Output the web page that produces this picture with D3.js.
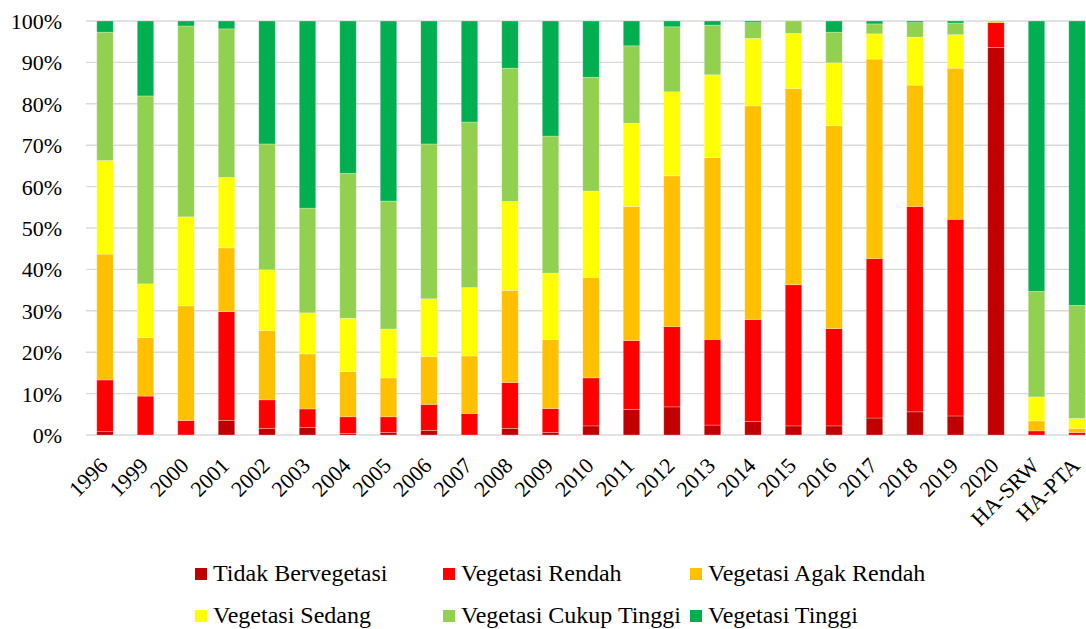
<!DOCTYPE html>
<html>
<head>
<meta charset="utf-8">
<script src="https://cdn.jsdelivr.net/npm/d3@7"></script>
<style>
  body { margin: 0; background: #fff; }
</style>
</head>
<body>
<script>
// kategori (tahun + hutan acuan)
var categories = ["1996","1999","2000","2001","2002","2003","2004","2005","2006","2007","2008","2009",
  "2010","2011","2012","2013","2014","2015","2016","2017","2018","2019","2020","HA-SRW","HA-PTA"];

// persentase tiap kelas (%)
var tidakBervegetasi = [0.8,0,0,3.5,1.6,1.8,0.4,0.6,1.1,0,1.6,0.6,2.2,6.2,6.8,2.4,3.3,2.2,2.2,4.1,5.6,4.6,93.6,0,0];
var vegRendah        = [12.5,9.4,3.5,26.3,6.9,4.5,4.0,3.8,6.3,5.2,11.1,5.8,11.6,16.6,19.4,20.7,24.6,34.1,23.5,38.5,49.6,47.5,6.0,1.0,0.6];
var vegAgakRendah    = [30.4,14.1,27.7,15.4,16.7,13.3,10.9,9.4,11.5,13.9,22.2,16.7,24.3,32.4,36.4,43.9,51.6,47.4,49.0,48.2,29.3,36.5,0.4,2.4,1.0];
var vegSedang        = [22.6,13.0,21.5,17.0,14.7,9.9,12.9,11.8,14.0,16.5,21.5,16.0,20.8,20.1,20.3,20.0,16.3,13.3,15.2,6.1,11.6,8.1,0,5.8,2.4];
var vegCukupTinggi   = [31.0,45.4,46.1,35.9,30.4,25.3,35.0,30.9,37.4,40.0,32.2,33.1,27.5,18.7,15.7,12.0,3.8,3.0,7.4,2.4,3.5,2.8,0,25.5,27.3];
var vegTinggi        = [2.7,18.1,1.2,1.9,29.7,45.2,36.8,43.5,29.7,24.4,11.4,27.8,13.6,6.0,1.4,1.0,0.4,0,2.7,0.7,0.4,0.5,0,65.3,68.7];

var seriesNames = ["Tidak Bervegetasi","Vegetasi Rendah","Vegetasi Agak Rendah","Vegetasi Sedang","Vegetasi Cukup Tinggi","Vegetasi Tinggi"];
var seriesValues = [tidakBervegetasi, vegRendah, vegAgakRendah, vegSedang, vegCukupTinggi, vegTinggi];
var seriesColors = ["#C00000","#FF0000","#FFC000","#FFFF00","#92D050","#00B050"];
var yTicks = [0,10,20,30,40,50,60,70,80,90,100];

var W = 1086, H = 629;
var serif = "'Liberation Serif', 'Times New Roman', 'DejaVu Serif', serif";

var svg = d3.select("body").append("svg")
    .attr("width", W)
    .attr("height", H)
    .attr("font-family", serif);

//skala
var x = d3.scaleBand().domain(categories).range([84.75, 1097.25]).paddingInner(0.593).paddingOuter(0.2965);
var y = d3.scaleLinear().domain([0,100]).range([435, 21]);

//gridlines
svg.append("g").selectAll("line").data(yTicks).enter().append("line")
    .attr("x1", 86).attr("x2", W)
    .attr("y1", function(d){ return y(d); })
    .attr("y2", function(d){ return y(d); })
    .attr("stroke", "#d9d9d9")
    .attr("stroke-width", 1.4);

//label sumbu y
svg.append("g").selectAll("text").data(yTicks).enter().append("text")
    .attr("x", 62)
    .attr("y", function(d){ return y(d); })
    .attr("dy", "0.36em")
    .attr("text-anchor", "end")
    .style("font-family", serif)
    .style("font-size", "22px")
    .text(function(d){ return d + "%"; });

//data bertumpuk
var rows = categories.map(function(c, i){
    var r = {cat: c};
    seriesNames.forEach(function(s, j){ r[s] = seriesValues[j][i]; });
    return r;
});
var stacked = d3.stack().keys(seriesNames)(rows);

svg.append("g").selectAll("g").data(stacked).enter().append("g")
    .attr("fill", function(d, i){ return seriesColors[i]; })
    .selectAll("rect").data(function(d){ return d; }).enter().append("rect")
    .attr("x", function(d){ return x(d.data.cat); })
    .attr("width", x.bandwidth())
    .attr("y", function(d){ return y(d[1]); })
    .attr("height", function(d){ return Math.max(0, y(d[0]) - y(d[1])); })
    .attr("stroke", "#ffffff")
    .attr("stroke-opacity", 0.35)
    .attr("stroke-width", 0.75);

//label sumbu x (miring)
svg.append("g").selectAll("text").data(categories).enter().append("text")
    .attr("transform", function(d){
        return "translate(" + (x(d) + x.bandwidth()/2 + 4) + ",467) rotate(-45)";
    })
    .attr("text-anchor", "end")
    .style("font-family", serif)
    .style("font-size", "22px")
    .text(function(d){ return d; });

//legenda
var legendX = [195, 443, 690];
var legendY = [568, 610];
var legend = svg.append("g").selectAll("g").data(seriesNames).enter().append("g")
    .attr("transform", function(d, i){
        return "translate(" + legendX[i % 3] + "," + legendY[Math.floor(i / 3)] + ")";
    });
legend.append("rect")
    .attr("width", 12).attr("height", 12)
    .attr("fill", function(d, i){ return seriesColors[i]; });
legend.append("text")
    .attr("x", 18)
    .attr("y", 13)
    .style("font-family", serif)
    .style("font-size", "24px")
    .text(function(d){ return d; });
</script>
</body>
</html>
